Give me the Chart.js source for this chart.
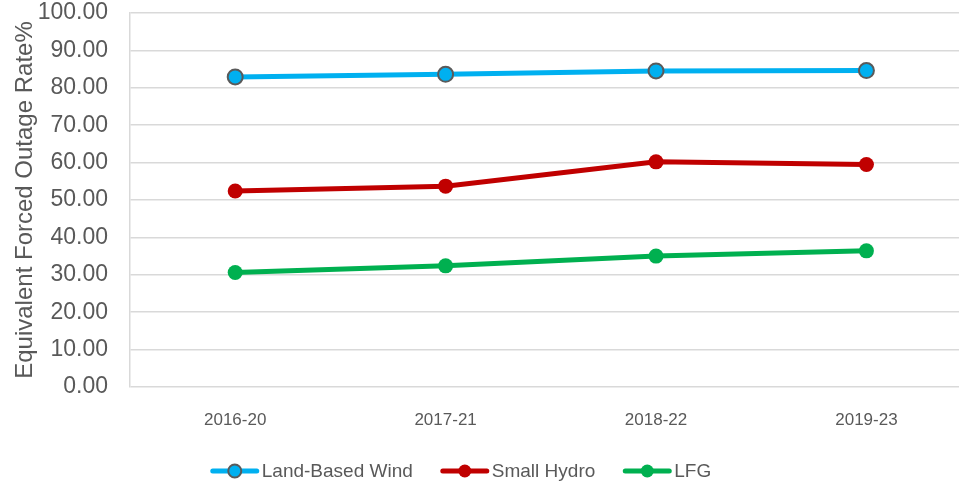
<!DOCTYPE html>
<html>
<head>
<meta charset="utf-8">
<script src="https://cdn.jsdelivr.net/npm/chart.js@4"></script>
<style>
  html, body { margin: 0; padding: 0; background: #fff; overflow: hidden; }
  #wrap { width: 959px; height: 483px; }
</style>
</head>
<body>
<div id="wrap"><canvas id="lineChart" width="959" height="483"></canvas></div>
<script>
const categories = ["2016-20", "2017-21", "2018-22", "2019-23"];
const windValues = [82.9, 83.6, 84.5, 84.6];
const hydroValues = [52.4, 53.7, 60.2, 59.5];
const lfgValues = [30.6, 32.4, 35.0, 36.4];
const yTickStep = 10;

const textColor = "#595959";
const gridColor = "#d9d9d9";

const toPoints = (values) => values.map((v, i) => ({ x: i, y: v }));

const series = [
    { label: "Land-Based Wind", values: windValues, color: "#00b0f0", border: "#5a5a5a" },
    { label: "Small Hydro", values: hydroValues, color: "#c00000", border: null },
    { label: "LFG", values: lfgValues, color: "#00b050", border: null },
];

// Excel style legend: a short line with the marker on it, then the name
const lineLegend = {
    id: "lineLegend",
    afterDraw(chart) {
        const ctx = chart.ctx;
        const y = 471;
        const iconW = 48;
        const gap = 28;
        ctx.save();
        ctx.font = "19px 'Liberation Sans'";
        const widths = chart.data.datasets.map((ds) => iconW + 3 + ctx.measureText(ds.label).width);
        const total = widths.reduce((a, b) => a + b, 0) + gap * (widths.length - 1);
        let x = 461 - total / 2;
        chart.data.datasets.forEach((ds, i) => {
            ctx.strokeStyle = ds.borderColor;
            ctx.lineWidth = 5;
            ctx.lineCap = "round";
            ctx.beginPath();
            ctx.moveTo(x + 2, y);
            ctx.lineTo(x + iconW - 2, y);
            ctx.stroke();
            ctx.beginPath();
            ctx.arc(x + iconW / 2, y, 6.5, 0, Math.PI * 2);
            ctx.fillStyle = ds.pointBackgroundColor;
            ctx.fill();
            if (ds.pointBorderWidth) {
                ctx.lineWidth = ds.pointBorderWidth;
                ctx.strokeStyle = ds.pointBorderColor;
                ctx.stroke();
            }
            ctx.fillStyle = textColor;
            ctx.textBaseline = "middle";
            ctx.textAlign = "left";
            ctx.fillText(ds.label, x + iconW + 3, y + 1);
            x += widths[i] + gap;
        });
        ctx.restore();
    },
};

document.addEventListener("DOMContentLoaded", function () {
    const ctx = document.getElementById("lineChart").getContext("2d");

    new Chart(ctx, {
        type: "line",
        data: {
            datasets: series.map((s) => ({
                label: s.label,
                data: toPoints(s.values),
                borderColor: s.color,
                backgroundColor: s.color,
                borderWidth: 5,
                pointRadius: 7.5,
                pointBorderWidth: s.border ? 2 : 0,
                pointBorderColor: s.border || s.color,
                pointBackgroundColor: s.color,
                tension: 0,
            })),
        },
        plugins: [lineLegend],
        options: {
            responsive: false,
            animation: false,
            layout: { autoPadding: false, padding: { top: 13, right: 0, left: 0, bottom: 56 } },
            plugins: {
                tooltip: { enabled: false },
                legend: { display: false },
            },
            scales: {
                x: {
                    type: "linear",
                    min: -0.5,
                    max: 3.44,
                    grid: { display: false },
                    border: { display: false },
                    ticks: {
                        stepSize: 1,
                        includeBounds: false,
                        maxRotation: 0,
                        padding: 15,
                        color: textColor,
                        font: { family: "Liberation Sans", size: 17 },
                        callback: (v) => (Number.isInteger(v) ? categories[v] : ""),
                    },
                    afterFit: (scale) => {
                        scale.height = 40;
                        scale.paddingLeft = 0;
                        scale.paddingRight = 0;
                    },
                },
                y: {
                    min: 0,
                    max: 100,
                    grid: { color: gridColor, lineWidth: 1.5, drawTicks: false },
                    border: { display: true, color: gridColor, width: 1.5 },
                    ticks: {
                        stepSize: yTickStep,
                        padding: 22,
                        color: textColor,
                        font: { family: "Liberation Sans", size: 23 },
                        callback: (v) => v.toFixed(2),
                    },
                    title: {
                        display: true,
                        text: "Equivalent Forced Outage Rate%",
                        color: textColor,
                        font: { family: "Liberation Sans", size: 24 },
                        padding: { top: 11, bottom: 0 },
                    },
                    afterFit: (scale) => {
                        scale.width = 130;
                        scale.paddingTop = 0;
                        scale.paddingBottom = 0;
                    },
                },
            },
        },
    });
});
</script>
</body>
</html>
